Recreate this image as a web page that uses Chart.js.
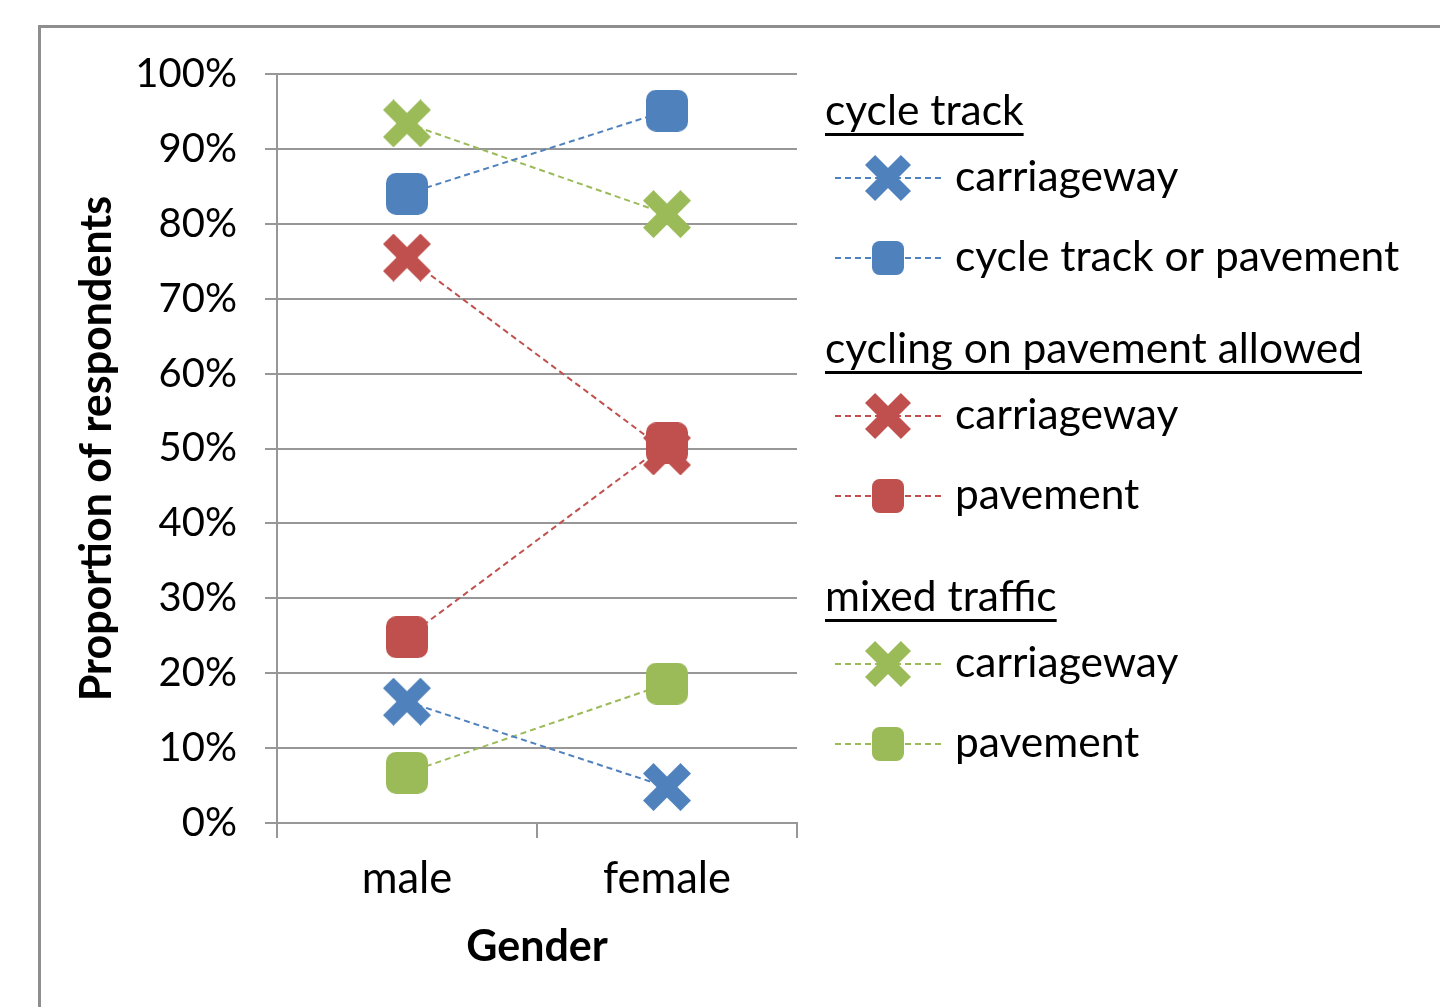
<!DOCTYPE html>
<html>
<head>
<meta charset="utf-8">
<script src="https://cdn.jsdelivr.net/npm/chart.js@4/dist/chart.umd.min.js"></script>
<style>
  body { margin: 0; background: #fff; overflow: hidden; }
  #frame { position: absolute; left: 38px; top: 25px; width: 1500px; height: 1100px; border: 3px solid #8e8e8e; }
  #chart { position: absolute; left: 0; top: 0; }
</style>
</head>
<body>
<div id="frame"></div>
<canvas id="chart" width="1440" height="1007"></canvas>
<script>
// categories
const genders = ['male', 'female'];

// values in % of respondents
const cycleTrackCarriageway = [16.2, 4.8];
const cycleTrackPavement = [84.0, 95.1];
const pavementAllowedCarriageway = [75.5, 49.6];
const pavementAllowedPavement = [24.8, 50.7];
const mixedCarriageway = [93.4, 81.3];
const mixedPavement = [6.7, 18.6];

// legend groups
const groupNames = ['cycle track', 'cycling on pavement allowed', 'mixed traffic'];
const seriesNames = ['carriageway', 'cycle track or pavement', 'carriageway', 'pavement', 'carriageway', 'pavement'];
const seriesGroup = [0, 0, 1, 1, 2, 2];

const BLUE = '#4f81bd';
const RED = '#c0504d';
const GREEN = '#9bbb59';
const GRID = '#979797';
const FONT = 'Lato, "Open Sans", sans-serif';

// Function to build a marker image (thick X or rounded square)
function makeMarker(shape, color, w, h) {
    const c = document.createElement('canvas');
    c.width = w;
    c.height = h;
    const ctx = c.getContext('2d');
    ctx.fillStyle = color;
    ctx.strokeStyle = color;
    if (shape === 'x') {
        const arm = w * 0.31;
        const d = (w - arm / Math.SQRT2) / 2;
        ctx.lineWidth = arm;
        ctx.lineCap = 'butt';
        ctx.beginPath();
        ctx.moveTo(w / 2 - d, h / 2 - d);
        ctx.lineTo(w / 2 + d, h / 2 + d);
        ctx.moveTo(w / 2 + d, h / 2 - d);
        ctx.lineTo(w / 2 - d, h / 2 + d);
        ctx.stroke();
    } else {
        const r = Math.min(w, h) * 0.24;
        ctx.beginPath();
        ctx.roundRect(0, 0, w, h, r);
        ctx.fill();
    }
    return c;
}

const colors = [BLUE, BLUE, RED, RED, GREEN, GREEN];
const shapes = ['x', 'square', 'x', 'square', 'x', 'square'];
const seriesValues = [cycleTrackCarriageway, cycleTrackPavement, pavementAllowedCarriageway,
    pavementAllowedPavement, mixedCarriageway, mixedPavement];

const chartMarkers = shapes.map((s, i) => s === 'x' ? makeMarker('x', colors[i], 48, 48) : makeMarker('square', colors[i], 42, 42));
const legendMarkers = shapes.map((s, i) => s === 'x' ? makeMarker('x', colors[i], 46, 46) : makeMarker('square', colors[i], 32, 34));

const datasets = seriesValues.map((vals, i) => ({
    label: seriesNames[i],
    data: vals,
    borderColor: colors[i],
    borderWidth: 2,
    borderDash: [6, 4],
    pointStyle: chartMarkers[i],
    pointRadius: 24,
    pointHoverRadius: 24,
    fill: false
}));

// Grouped legend with underlined headers, drawn on the canvas
const groupedLegend = {
    id: 'groupedLegend',
    afterDraw(chart) {
        const ctx = chart.ctx;
        const headerY = [111, 349, 597];
        ctx.save();
        ctx.textBaseline = 'middle';
        ctx.textAlign = 'left';
        groupNames.forEach((name, g) => {
            ctx.font = '42.5px ' + FONT;
            ctx.fillStyle = '#000';
            ctx.fillText(name, 825, headerY[g]);
            const w = ctx.measureText(name).width;
            ctx.fillRect(825, headerY[g] + 22, w, 3);
            let y = headerY[g] + 67;
            chart.data.datasets.forEach((ds, i) => {
                if (seriesGroup[i] !== g) return;
                ctx.strokeStyle = ds.borderColor;
                ctx.lineWidth = 2;
                ctx.setLineDash([6, 4]);
                ctx.beginPath();
                ctx.moveTo(835, y);
                ctx.lineTo(942, y);
                ctx.stroke();
                ctx.setLineDash([]);
                const m = legendMarkers[i];
                ctx.drawImage(m, 888 - m.width / 2, y - m.height / 2);
                ctx.fillStyle = '#000';
                ctx.fillText(ds.label, 955, y - 1);
                y += 80;
            });
        });
        ctx.restore();
    }
};

new Chart(document.getElementById('chart').getContext('2d'), {
    type: 'line',
    data: { labels: genders, datasets: datasets },
    options: {
        responsive: false,
        animation: false,
        layout: { padding: { left: 0, right: 643, top: 74, bottom: 0 } },
        scales: {
            x: {
                type: 'category',
                offset: true,
                grid: { offset: true, drawOnChartArea: false, tickLength: 15, color: GRID, lineWidth: 2 },
                border: { color: GRID, width: 2 },
                ticks: { color: '#000', font: { family: FONT, size: 43.5 }, padding: 15 },
                title: { display: true, text: 'Gender', color: '#000', font: { family: FONT, size: 43, weight: 'bold' }, padding: { top: 0, bottom: 34 } },
                afterFit(scale) { scale.height = 184; }
            },
            y: {
                min: 0,
                max: 100,
                ticks: { stepSize: 10, color: '#000', font: { family: FONT, size: 40 }, padding: 28, callback: v => v + '%' },
                grid: { tickLength: 12, color: GRID, lineWidth: 2 },
                border: { color: GRID, width: 2 },
                title: { display: true, text: 'Proportion of respondents', color: '#000', font: { family: FONT, size: 43, weight: 'bold' }, padding: { top: 71, bottom: 0 } },
                afterFit(scale) { scale.width = 277; }
            }
        },
        plugins: {
            legend: { display: false },
            tooltip: { enabled: false }
        }
    },
    plugins: [groupedLegend]
});
</script>
</body>
</html>
